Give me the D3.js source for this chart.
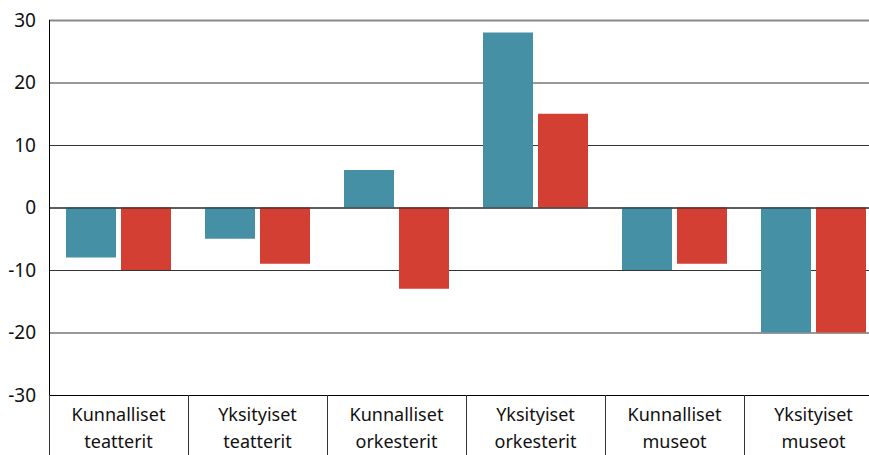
<!DOCTYPE html>
<html>
<head>
<meta charset="utf-8">
<script src="https://cdn.jsdelivr.net/npm/d3@7"></script>
<style>
  body { margin: 0; background: #fff; }
  svg { display: block; font-family: "Noto Sans", "Open Sans", sans-serif; }
</style>
</head>
<body>
<svg width="869" height="455"></svg>
<script>
var categories = [
  ['Kunnalliset', 'teatterit'],
  ['Yksityiset', 'teatterit'],
  ['Kunnalliset', 'orkesterit'],
  ['Yksityiset', 'orkesterit'],
  ['Kunnalliset', 'museot'],
  ['Yksityiset', 'museot']
];
var seriesA = [-8, -5, 6, 28, -10, -20];
var seriesB = [-10, -9, -13, 15, -9, -20];
var yTicks = [-30, -20, -10, 0, 10, 20, 30];

var svg = d3.select('svg');
var marginLeft = 49, plotTop = 20, plotBottom = 395, plotRight = 883;

var xScale = d3.scaleBand()
  .domain(d3.range(categories.length))
  .range([marginLeft, plotRight]);
var inner = d3.scaleBand()
  .domain(['a', 'b'])
  .range([17, xScale.bandwidth() - 17])
  .paddingInner(0.0909);
var yScale = d3.scaleLinear().domain([-30, 30]).range([plotBottom, plotTop]);

// gridlines
svg.append('g')
  .selectAll('line')
  .data(yTicks)
  .enter()
  .append('line')
  .attr('x1', marginLeft)
  .attr('x2', 869)
  .attr('y1', d => yScale(d) + 0.5)
  .attr('y2', d => yScale(d) + 0.5)
  .attr('stroke', d => d === -30 ? '#000' : (d === 30 ? '#888' : '#333'))
  .attr('stroke-width', d => d === 30 ? 2 : 1);

// y labels
svg.append('g')
  .selectAll('text')
  .data(yTicks)
  .enter()
  .append('text')
  .attr('x', 36)
  .attr('y', d => yScale(d))
  .attr('dy', '0.35em')
  .attr('text-anchor', 'end')
  .attr('font-size', 19)
  .attr('fill', '#111')
  .text(d => d);

var data = categories.map((c, i) => ({i: i, a: seriesA[i], b: seriesB[i]}));

var g = svg.append('g');
g.selectAll('.barA')
  .data(data)
  .enter()
  .append('rect')
  .attr('x', d => xScale(d.i) + inner('a'))
  .attr('width', inner.bandwidth())
  .attr('y', d => yScale(Math.max(0, d.a)))
  .attr('height', d => Math.abs(yScale(d.a) - yScale(0)))
  .attr('fill', '#4690a6');
g.selectAll('.barB')
  .data(data)
  .enter()
  .append('rect')
  .attr('x', d => xScale(d.i) + inner('b'))
  .attr('width', inner.bandwidth())
  .attr('y', d => yScale(Math.max(0, d.b)))
  .attr('height', d => Math.abs(yScale(d.b) - yScale(0)))
  .attr('fill', '#d33f33');

// zero line
svg.append('line')
  .attr('x1', marginLeft).attr('x2', 869)
  .attr('y1', yScale(0) + 0.5).attr('y2', yScale(0) + 0.5)
  .attr('stroke', '#222');

// left axis line
svg.append('line')
  .attr('x1', marginLeft + 0.5).attr('x2', marginLeft + 0.5)
  .attr('y1', plotTop).attr('y2', plotBottom + 1)
  .attr('stroke', '#000');

// category separators
svg.append('g')
  .selectAll('line')
  .data(d3.range(categories.length))
  .enter()
  .append('line')
  .attr('x1', d => xScale(d) + 0.5)
  .attr('x2', d => xScale(d) + 0.5)
  .attr('y1', plotBottom)
  .attr('y2', 455)
  .attr('stroke', '#333');

// category labels
var labels = svg.append('g')
  .selectAll('text')
  .data(categories)
  .enter()
  .append('text')
  .attr('x', (d, i) => xScale(i) + xScale.bandwidth() / 2)
  .attr('y', 421)
  .attr('text-anchor', 'middle')
  .attr('font-size', 18)
  .attr('fill', '#111');
labels.append('tspan')
  .attr('x', (d, i) => xScale(i) + xScale.bandwidth() / 2)
  .text(d => d[0]);
labels.append('tspan')
  .attr('x', (d, i) => xScale(i) + xScale.bandwidth() / 2)
  .attr('dy', 27)
  .text(d => d[1]);
</script>
</body>
</html>
